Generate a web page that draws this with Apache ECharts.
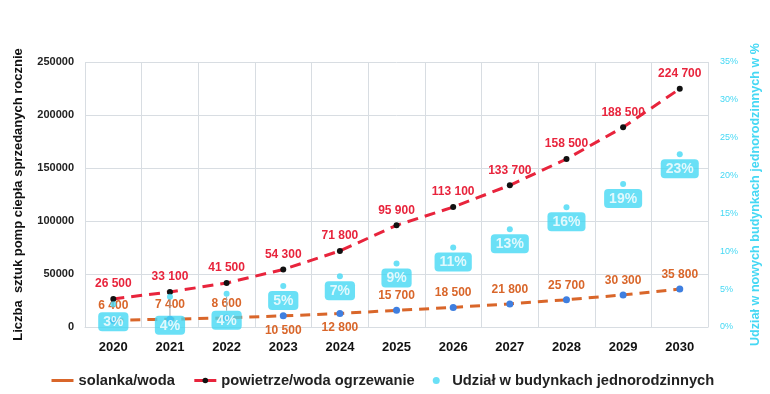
<!DOCTYPE html>
<html><head><meta charset="utf-8">
<script src="https://cdn.jsdelivr.net/npm/echarts@6/dist/echarts.min.js"></script>
<style>html,body{margin:0;padding:0;background:#fff}#c{width:770px;height:394px}</style>
</head><body><div id="c"></div>
<script>
const years = ['2020','2021','2022','2023','2024','2025','2026','2027','2028','2029','2030'];
const solanka = [6400, 7400, 8600, 10500, 12800, 15700, 18500, 21800, 25700, 30300, 35800];
const powietrze = [26500, 33100, 41500, 54300, 71800, 95900, 113100, 133700, 158500, 188500, 224700];
const udzial = [3, 4, 4.4, 5.4, 6.7, 8.4, 10.5, 12.9, 15.8, 18.9, 22.8];
const udzialLabels = ['3%','4%','4%','5%','7%','9%','11%','13%','16%','19%','23%'];
const leftTicks = [0, 50000, 100000, 150000, 200000, 250000];
const rightTicks = [0, 5, 10, 15, 20, 25, 30, 35];

const FONT = 'Liberation Sans';
const CYAN = '#45d8f4';
const fmt = v => String(v).replace(/\B(?=(\d{3})+(?!\d))/g, ' ');
const belowIdx = [3, 4];
const pctShift = [3, 14, 12, 0, 0, 0, 0, 0, 0, 0, 0];
const pctLeader = [1, 2];

const chart = echarts.init(document.getElementById('c'));
const legendText = {fontFamily: FONT, fontSize: 14.7, fontWeight: 'bold', color: '#222'};
chart.setOption({
  animation: false,
  textStyle: {fontFamily: FONT},
  grid: {left: 85, right: 57, top: 62, bottom: 67},
  legend: {
    top: 368, left: 45, itemGap: 18, itemWidth: 22, itemHeight: 7,
    textStyle: legendText,
    data: [
      {name: 'solanka/woda', itemStyle: {opacity: 0}, lineStyle: {type: 'solid', color: '#d9662a', width: 3}},
      {name: 'powietrze/woda ogrzewanie', itemStyle: {color: '#111'}, lineStyle: {type: 'solid', color: '#e8243c', width: 3}},
      {name: 'Udział w budynkach jednorodzinnych', icon: 'circle', itemStyle: {color: CYAN}}
    ]
  },
  xAxis: {
    type: 'category', data: years, boundaryGap: true,
    axisLine: {lineStyle: {color: '#d8dde2'}}, axisTick: {show: false},
    splitLine: {show: true, lineStyle: {color: '#d8dde2'}},
    axisLabel: {color: '#111', fontSize: 13, fontWeight: 'bold', margin: 14, interval: 0}
  },
  yAxis: [{
    type: 'value', min: 0, max: 250000, interval: 50000,
    name: 'Liczba  sztuk pomp ciepła sprzedanych rocznie', nameLocation: 'middle', nameGap: 60,
    nameTextStyle: {color: '#111', fontSize: 13, fontWeight: 'bold'},
    axisLabel: {color: '#222', fontSize: 11, fontWeight: 'bold', margin: 11, formatter: v => String(v)},
    splitLine: {lineStyle: {color: '#d8dde2'}},
    axisLine: {show: false}, axisTick: {show: false}
  }, {
    type: 'value', min: 0, max: 35, interval: 5, position: 'right',
    name: 'Udział w nowych budynkach jednorodzinnych w %', nameLocation: 'middle', nameGap: 37,
    nameTextStyle: {color: CYAN, fontSize: 12.6, fontWeight: 'bold'},
    axisLabel: {color: CYAN, fontSize: 9, margin: 12, formatter: '{value}%'},
    splitLine: {show: false}, axisLine: {show: false}, axisTick: {show: false}
  }],
  series: [{
    name: 'solanka/woda', type: 'line', yAxisIndex: 0, z: 3,
    data: solanka.map((v, i) => belowIdx.includes(i)
      ? {value: v, label: {position: 'bottom'}} : v),
    symbol: 'circle', symbolSize: 7,
    itemStyle: {color: '#3f7fe0'},
    lineStyle: {color: '#d9662a', width: 3, type: [10, 7]},
    label: {show: true, position: 'top', distance: 5, color: '#d9662a', fontSize: 12, fontWeight: 'bold',
      formatter: p => fmt(p.value)}
  }, {
    name: 'powietrze/woda ogrzewanie', type: 'line', yAxisIndex: 0, z: 4,
    data: powietrze,
    symbol: 'circle', symbolSize: 6,
    itemStyle: {color: '#111'},
    lineStyle: {color: '#e8243c', width: 3, type: [11, 7]},
    label: {show: true, position: 'top', distance: 6, color: '#e8243c', fontSize: 12, fontWeight: 'bold',
      formatter: p => fmt(p.value)}
  }, {
    name: 'Udział w budynkach jednorodzinnych', type: 'scatter', yAxisIndex: 1, z: 5,
    data: udzial.map((v, i) => ({value: v, labelLine: {show: pctLeader.includes(i)}})),
    symbol: 'circle', symbolSize: 6,
    itemStyle: {color: CYAN},
    labelLayout: p => ({dy: pctShift[p.dataIndex]}),
    labelLine: {show: true, lineStyle: {color: '#a0a6ab', width: 1}},
    label: {show: true, position: 'bottom', distance: 2, color: '#fff', fontSize: 14, fontWeight: 'bold',
      backgroundColor: CYAN, borderRadius: 4, padding: [3, 5, 2, 5],
      formatter: p => udzialLabels[p.dataIndex]}
  }]
});
</script></body></html>
